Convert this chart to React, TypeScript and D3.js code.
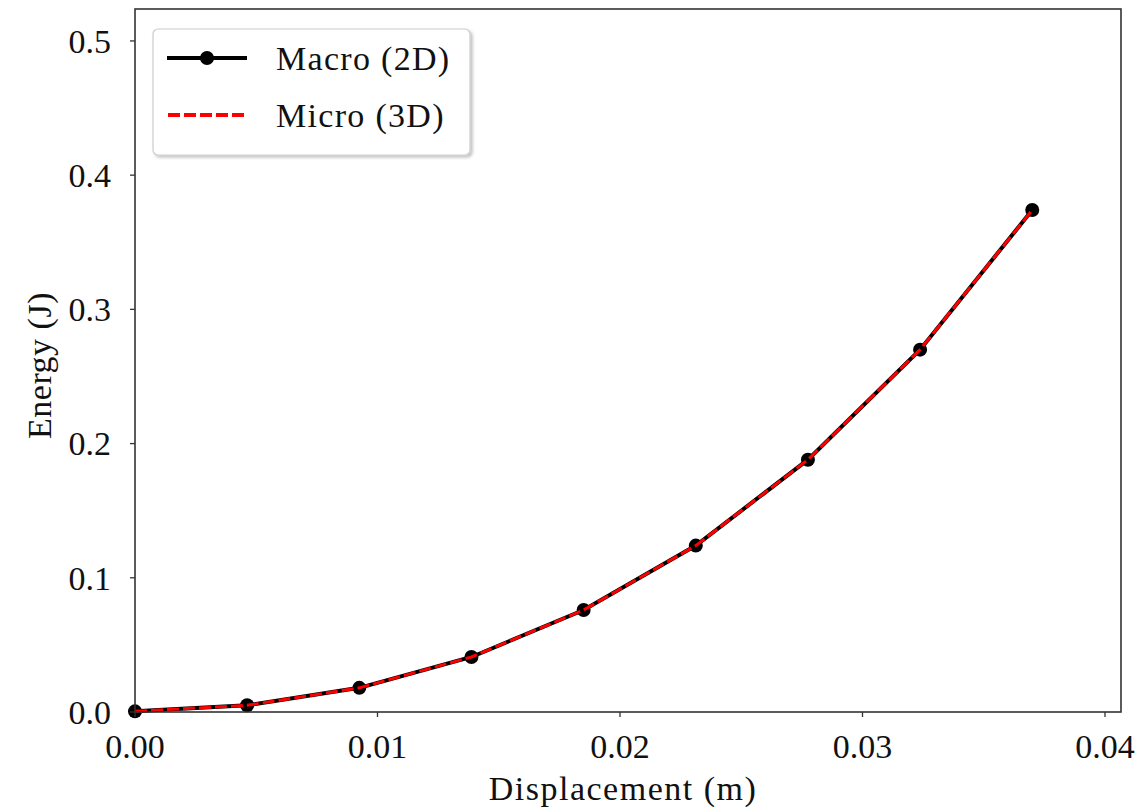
import * as d3 from "d3";

// displacement (m) and energy (J)
const displacement = [0, 0.004625, 0.00925, 0.013875, 0.0185, 0.023125, 0.02775, 0.032375, 0.037];
const macroEnergy = [0.0005, 0.005, 0.018, 0.041, 0.076, 0.124, 0.188, 0.27, 0.374];
const microEnergy = [0.0005, 0.005, 0.018, 0.041, 0.076, 0.124, 0.188, 0.27, 0.374];
const xTicks = [0, 0.01, 0.02, 0.03, 0.04];
const yTicks = [0, 0.1, 0.2, 0.3, 0.4, 0.5];

const W = 1143, H = 810;
const margin = { top: 9, right: 22, bottom: 98, left: 135 };
const FONT = "'Liberation Serif', 'DejaVu Serif', serif";

const App = () => {
  const width = W - margin.left - margin.right;
  const height = H - margin.top - margin.bottom;

  const x = d3.scaleLinear().domain([0, 0.04066]).range([0, width]);
  const y = d3.scaleLinear().domain([0, 0.5238]).range([height, 0]);

  const line = d3
    .line<number>()
    .x((d, i) => x(displacement[i]))
    .y((d) => y(d));

  const fmtX = d3.format(".2f");
  const fmtY = d3.format(".1f");

  return (
    <svg width={W} height={H} style={{ position: "absolute", left: 0, top: 0, background: "#fff" }}>
      <defs>
        <filter id="shadow" x="-10%" y="-10%" width="130%" height="130%">
          <feDropShadow dx="2" dy="2" stdDeviation="1.5" floodColor="#000" floodOpacity="0.25" />
        </filter>
      </defs>
      <g transform={`translate(${margin.left},${margin.top})`} fontFamily={FONT}>
        {/* data */}
        <path d={line(macroEnergy) || ""} fill="none" stroke="#000" strokeWidth={4} />
        {macroEnergy.map((v, i) => (
          <circle key={i} cx={x(displacement[i])} cy={y(v)} r={7} fill="#000" />
        ))}
        <path d={line(microEnergy) || ""} fill="none" stroke="#ff0000" strokeWidth={3} strokeDasharray="12,4" />

        {/* frame */}
        <rect x={0} y={0} width={width} height={height} fill="none" stroke="#333" strokeWidth={1.6} />

        {/* x axis */}
        {xTicks.map((t) => (
          <g key={t} transform={`translate(${x(t)},${height})`}>
            <line y1={0} y2={5} stroke="#333" strokeWidth={1.3} />
            <text y={46} textAnchor="middle" fontSize={34} fill="#111">{fmtX(t)}</text>
          </g>
        ))}
        {/* y axis */}
        {yTicks.map((t) => (
          <g key={t} transform={`translate(0,${y(t)})`}>
            <line x1={0} x2={-5} stroke="#333" strokeWidth={1.3} />
            <text x={-24} dy="0.35em" textAnchor="end" fontSize={34} fill="#111">{fmtY(t)}</text>
          </g>
        ))}

        <text x={width / 2 - 5} y={height + 88} textAnchor="middle" fontSize={34} letterSpacing={1.5} fill="#111">
          Displacement (m)
        </text>
        <text
          transform={`translate(${-84},${height / 2 + 5}) rotate(-90)`}
          textAnchor="middle"
          fontSize={34}
          letterSpacing={0.5}
          fill="#111"
        >
          Energy (J)
        </text>

        {/* legend */}
        <g transform="translate(18,20)">
          <rect x={0} y={0} width={317} height={126} rx={5} fill="#fff" stroke="#ccc" strokeWidth={1.2} filter="url(#shadow)" />
          <line x1={14} x2={94} y1={29} y2={29} stroke="#000" strokeWidth={4} />
          <circle cx={54} cy={29} r={7} fill="#000" />
          <text x={123} y={29} dy="0.35em" fontSize={34} letterSpacing={1.3} fill="#111">Macro (2D)</text>
          <line x1={15} x2={92} y1={86} y2={86} stroke="#ff0000" strokeWidth={4} strokeDasharray="12,4" />
          <text x={123} y={86} dy="0.35em" fontSize={34} letterSpacing={1.3} fill="#111">Micro (3D)</text>
        </g>
      </g>
    </svg>
  );
};

export default App;
